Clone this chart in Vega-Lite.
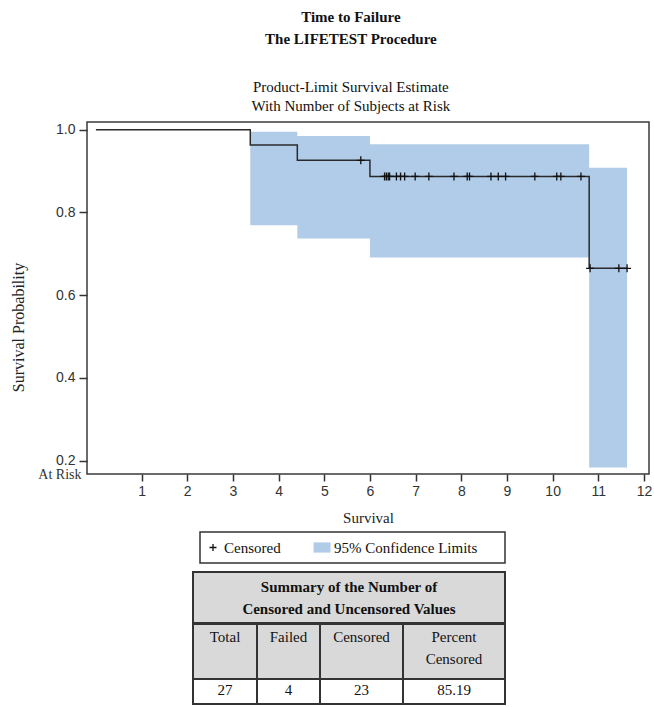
{
  "$schema": "https://vega.github.io/schema/vega-lite/v6.json",
  "background": "white",
  "padding": {"left": 9, "top": 10, "right": 0, "bottom": 0},
  "config": {"view": {"stroke": null}, "font": "Liberation Serif"},
  "title": {
    "text": ["Time to Failure", "The LIFETEST Procedure"],
    "subtitle": ["Product-Limit Survival Estimate", "With Number of Subjects at Risk"],
    "anchor": "middle",
    "font": "Liberation Serif",
    "fontSize": 15,
    "fontWeight": "bold",
    "lineHeight": 22,
    "color": "#111",
    "subtitleFont": "Liberation Serif",
    "subtitleFontSize": 15,
    "subtitleLineHeight": 19,
    "subtitleColor": "#111",
    "subtitlePadding": 33,
    "offset": 7,
    "dx": 20
  },
  "datasets": {
    "km": [
      {"time": 0, "survival": 1},
      {"time": 3.38, "survival": 0.963},
      {"time": 4.41, "survival": 0.926},
      {"time": 6.0, "survival": 0.887},
      {"time": 10.8, "survival": 0.665},
      {"time": 11.63, "survival": 0.665}
    ],
    "ci": [
      {"time": 3.38, "lower": 0.769, "upper": 0.995},
      {"time": 4.41, "lower": 0.737, "upper": 0.985},
      {"time": 6.0, "lower": 0.691, "upper": 0.965},
      {"time": 10.8, "lower": 0.184, "upper": 0.908},
      {"time": 11.63, "lower": 0.184, "upper": 0.908}
    ],
    "censored": [
      {"time": 5.8, "survival": 0.926},
      {"time": 6.32, "survival": 0.887},
      {"time": 6.36, "survival": 0.887},
      {"time": 6.4, "survival": 0.887},
      {"time": 6.43, "survival": 0.887},
      {"time": 6.58, "survival": 0.887},
      {"time": 6.67, "survival": 0.887},
      {"time": 6.76, "survival": 0.887},
      {"time": 6.99, "survival": 0.887},
      {"time": 7.29, "survival": 0.887},
      {"time": 7.84, "survival": 0.887},
      {"time": 8.13, "survival": 0.887},
      {"time": 8.18, "survival": 0.887},
      {"time": 8.65, "survival": 0.887},
      {"time": 8.81, "survival": 0.887},
      {"time": 8.97, "survival": 0.887},
      {"time": 9.61, "survival": 0.887},
      {"time": 10.09, "survival": 0.887},
      {"time": 10.18, "survival": 0.887},
      {"time": 10.62, "survival": 0.887},
      {"time": 10.82, "survival": 0.665},
      {"time": 11.45, "survival": 0.665},
      {"time": 11.63, "survival": 0.665}
    ],
    "legend": [
      {"label": "Censored"},
      {"label": "95% Confidence Limits"}
    ],
    "tableTitle": [
      {"text": "Summary of the Number of\nCensored and Uncensored Values"}
    ],
    "summary": [
      {"column": "Total", "value": 27},
      {"column": "Failed", "value": 4},
      {"column": "Censored", "value": 23},
      {"column": "Percent\nCensored", "value": 85.19}
    ]
  },
  "spacing": 5,
  "vconcat": [
    {
      "width": 562,
      "height": 352,
      "view": {"stroke": "#3a3a3a", "strokeWidth": 1.5},
      "encoding": {
        "x": {
          "field": "time",
          "type": "quantitative",
          "title": "Survival",
          "scale": {"domain": [-0.195, 12.11], "nice": false, "zero": false},
          "axis": {
            "values": [1, 2, 3, 4, 5, 6, 7, 8, 9, 10, 11, 12],
            "grid": false,
            "domain": false,
            "tickSize": 7,
            "tickWidth": 1.5,
            "tickColor": "#333",
            "labelFont": "Liberation Sans",
            "labelFontSize": 14,
            "labelColor": "#333",
            "labelPadding": 3,
            "labelFlush": false,
            "labelOverlap": false,
            "titleFont": "Liberation Serif",
            "titleFontSize": 15,
            "titleFontWeight": "normal",
            "titleColor": "#222",
            "titlePadding": 12
          }
        }
      },
      "layer": [
        {
          "data": {"name": "ci"},
          "mark": {"type": "area", "interpolate": "step-after", "color": "#b0cce8", "opacity": 1},
          "encoding": {
            "y": {
              "field": "lower",
              "type": "quantitative",
              "title": "Survival Probability",
              "scale": {"domain": [0.168, 1.0186], "nice": false, "zero": false},
              "axis": {
                "values": [0.168, 0.2, 0.4, 0.6, 0.8, 1.0],
                "labelExpr": "datum.value < 0.19 ? 'At Risk' : format(datum.value, '.1f')",
                "labelFont": {"condition": {"test": "datum.value < 0.19", "value": "Liberation Serif"}, "value": "Liberation Sans"},
                "labelPadding": {"condition": {"test": "datum.value < 0.19", "value": -2}, "value": 4},
                "tickColor": {"condition": {"test": "datum.value < 0.19", "value": "transparent"}, "value": "#333"},
                "tickSize": 8,
                "tickWidth": 1.5,
                "labelFontSize": 14,
                "labelColor": "#333",
                "labelBaseline": "middle",
                "labelOverlap": false,
                "labelBound": false,
                "grid": false,
                "domain": false,
                "titleFont": "Liberation Serif",
                "titleFontSize": 16,
                "titleFontWeight": "normal",
                "titleColor": "#222",
                "titlePadding": 14,
                "titleY": 205,
                "minExtent": 47,
                "maxExtent": 47
              }
            },
            "y2": {"field": "upper"}
          }
        },
        {
          "data": {"name": "km"},
          "mark": {"type": "line", "interpolate": "step-after", "color": "#2a2a2a", "strokeWidth": 1.5},
          "encoding": {
            "y": {
              "field": "survival",
              "type": "quantitative",
              "title": "Survival Probability",
              "scale": {"domain": [0.168, 1.0186], "nice": false, "zero": false}
            }
          }
        },
        {
          "data": {"name": "censored"},
          "mark": {"type": "point", "shape": "M-1,0H1M0,-1V1", "size": 64, "filled": false, "color": "#111", "strokeWidth": 1.3, "opacity": 1},
          "encoding": {
            "y": {
              "field": "survival",
              "type": "quantitative",
              "title": "Survival Probability",
              "scale": {"domain": [0.168, 1.0186], "nice": false, "zero": false}
            }
          }
        }
      ]
    },
    {
      "spacing": 0,
      "hconcat": [
        {
          "width": 112,
          "height": 34,
          "view": {"fill": "white"},
          "data": {"values": []},
          "mark": "point"
        },
        {
          "width": 305,
          "height": 31,
          "view": {"stroke": "#333", "strokeWidth": 1.5},
          "data": {"name": "legend"},
          "encoding": {
            "x": {
              "field": "label",
              "type": "nominal",
              "bandPosition": 0,
              "scale": {"type": "band", "domain": ["Censored", "95% Confidence Limits"], "paddingInner": 0, "paddingOuter": 0.386, "align": 0},
              "axis": null
            }
          },
          "layer": [
            {
              "transform": [{"filter": "datum.label === 'Censored'"}],
              "mark": {"type": "point", "shape": "M-1,0H1M0,-1V1", "size": 49, "filled": false, "color": "#111", "strokeWidth": 1.3, "opacity": 1, "xOffset": 13}
            },
            {
              "transform": [{"filter": "datum.label !== 'Censored'"}],
              "mark": {"type": "point", "shape": "M-1,-0.6H1V0.6H-1Z", "size": 289, "filled": true, "color": "#b0cce8", "opacity": 1, "xOffset": 12}
            },
            {
              "mark": {"type": "text", "align": "left", "baseline": "middle", "dx": 24, "font": "Liberation Serif", "fontSize": 15, "color": "#111"},
              "encoding": {"text": {"field": "label", "type": "nominal"}}
            }
          ]
        }
      ]
    },
    {
      "spacing": 0,
      "hconcat": [
        {
          "width": 105,
          "height": 130,
          "view": {"fill": "white"},
          "data": {"values": []},
          "mark": "point"
        },
        {
          "spacing": -4,
          "vconcat": [
            {
              "width": 312,
              "height": 51,
              "view": {"fill": "#d9d9d9", "stroke": "#333", "strokeWidth": 2},
              "data": {"name": "tableTitle"},
              "mark": {"type": "text", "baseline": "middle", "dy": -11, "lineBreak": "\n", "lineHeight": 22, "font": "Liberation Serif", "fontSize": 15, "fontWeight": "bold", "color": "#111"},
              "encoding": {"text": {"field": "text", "type": "nominal"}}
            },
            {
              "columns": 4,
              "spacing": 0,
              "bounds": "flush",
              "align": "each",
              "concat": [
                {
                  "width": 64, "height": 55,
                  "view": {"fill": "#d9d9d9", "stroke": "#333", "strokeWidth": 2},
                  "data": {"name": "summary"},
                  "transform": [{"filter": "datum.column === 'Total'"}],
                  "mark": {"type": "text", "baseline": "top", "dy": -21.5, "lineBreak": "\n", "lineHeight": 22, "font": "Liberation Serif", "fontSize": 15, "color": "#111"},
                  "encoding": {"text": {"field": "column", "type": "nominal"}}
                },
                {
                  "width": 63, "height": 55,
                  "view": {"fill": "#d9d9d9", "stroke": "#333", "strokeWidth": 2},
                  "data": {"name": "summary"},
                  "transform": [{"filter": "datum.column === 'Failed'"}],
                  "mark": {"type": "text", "baseline": "top", "dy": -21.5, "lineBreak": "\n", "lineHeight": 22, "font": "Liberation Serif", "fontSize": 15, "color": "#111"},
                  "encoding": {"text": {"field": "column", "type": "nominal"}}
                },
                {
                  "width": 83, "height": 55,
                  "view": {"fill": "#d9d9d9", "stroke": "#333", "strokeWidth": 2},
                  "data": {"name": "summary"},
                  "transform": [{"filter": "datum.column === 'Censored'"}],
                  "mark": {"type": "text", "baseline": "top", "dy": -21.5, "lineBreak": "\n", "lineHeight": 22, "font": "Liberation Serif", "fontSize": 15, "color": "#111"},
                  "encoding": {"text": {"field": "column", "type": "nominal"}}
                },
                {
                  "width": 102, "height": 55,
                  "view": {"fill": "#d9d9d9", "stroke": "#333", "strokeWidth": 2},
                  "data": {"name": "summary"},
                  "transform": [{"filter": "datum.column !== 'Total' && datum.column !== 'Failed' && datum.column !== 'Censored'"}],
                  "mark": {"type": "text", "baseline": "top", "dy": -21.5, "lineBreak": "\n", "lineHeight": 22, "font": "Liberation Serif", "fontSize": 15, "color": "#111"},
                  "encoding": {"text": {"field": "column", "type": "nominal"}}
                },
                {
                  "width": 64, "height": 25,
                  "view": {"fill": "white", "stroke": "#333", "strokeWidth": 2},
                  "data": {"name": "summary"},
                  "transform": [{"filter": "datum.column === 'Total'"}],
                  "mark": {"type": "text", "baseline": "middle", "dy": -2, "font": "Liberation Serif", "fontSize": 15, "color": "#111"},
                  "encoding": {"text": {"field": "value", "type": "nominal"}}
                },
                {
                  "width": 63, "height": 25,
                  "view": {"fill": "white", "stroke": "#333", "strokeWidth": 2},
                  "data": {"name": "summary"},
                  "transform": [{"filter": "datum.column === 'Failed'"}],
                  "mark": {"type": "text", "baseline": "middle", "dy": -2, "font": "Liberation Serif", "fontSize": 15, "color": "#111"},
                  "encoding": {"text": {"field": "value", "type": "nominal"}}
                },
                {
                  "width": 83, "height": 25,
                  "view": {"fill": "white", "stroke": "#333", "strokeWidth": 2},
                  "data": {"name": "summary"},
                  "transform": [{"filter": "datum.column === 'Censored'"}],
                  "mark": {"type": "text", "baseline": "middle", "dy": -2, "font": "Liberation Serif", "fontSize": 15, "color": "#111"},
                  "encoding": {"text": {"field": "value", "type": "nominal"}}
                },
                {
                  "width": 102, "height": 25,
                  "view": {"fill": "white", "stroke": "#333", "strokeWidth": 2},
                  "data": {"name": "summary"},
                  "transform": [{"filter": "datum.column !== 'Total' && datum.column !== 'Failed' && datum.column !== 'Censored'"}],
                  "mark": {"type": "text", "baseline": "middle", "dy": -2, "font": "Liberation Serif", "fontSize": 15, "color": "#111"},
                  "encoding": {"text": {"field": "value", "type": "nominal"}}
                }
              ]
            }
          ]
        }
      ]
    }
  ]
}
